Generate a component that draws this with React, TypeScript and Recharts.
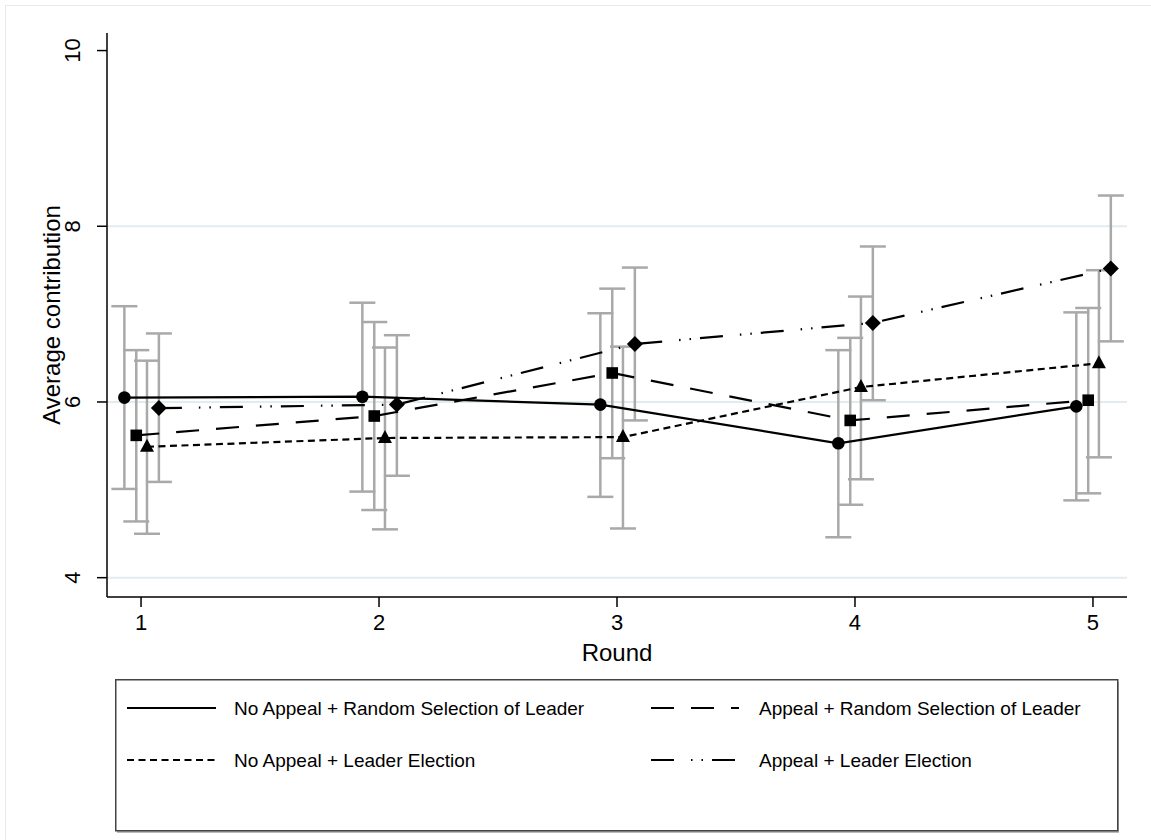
import React from 'react';
import { LineChart, Line, XAxis, YAxis, ErrorBar, CartesianGrid, Label } from 'recharts';

const FONT = '"Liberation Sans", Arial, Helvetica, sans-serif';

// ---------- data ----------
const rounds = [1, 2, 3, 4, 5];
const xTicks = [1, 2, 3, 4, 5];
const yTicks = [4, 6, 8, 10];
const gridValues = [4, 6, 8];

const seriesNames = [
  'No Appeal + Random Selection of Leader',
  'Appeal + Random Selection of Leader',
  'No Appeal + Leader Election',
  'Appeal + Leader Election',
];

// horizontal jitter used in the original plot for each treatment
const jitter = [-0.07, -0.02, 0.025, 0.075];

const noAppealRandomMean = [6.05, 6.06, 5.97, 5.53, 5.95];
const noAppealRandomLow = [5.01, 4.98, 4.92, 4.46, 4.88];
const noAppealRandomHigh = [7.09, 7.13, 7.01, 6.59, 7.02];

const appealRandomMean = [5.62, 5.84, 6.33, 5.79, 6.02];
const appealRandomLow = [4.64, 4.77, 5.36, 4.83, 4.96];
const appealRandomHigh = [6.59, 6.91, 7.29, 6.73, 7.07];

const noAppealElectionMean = [5.49, 5.59, 5.6, 6.17, 6.44];
const noAppealElectionLow = [4.5, 4.55, 4.56, 5.12, 5.37];
const noAppealElectionHigh = [6.47, 6.62, 6.63, 7.2, 7.5];

const appealElectionMean = [5.93, 5.97, 6.66, 6.9, 7.52];
const appealElectionLow = [5.09, 5.16, 5.79, 6.02, 6.69];
const appealElectionHigh = [6.78, 6.76, 7.53, 7.77, 8.35];

// ---------- styles ----------
const dashes = [undefined, '23 17', '7 4.5', '23 17 1.5 9 1.5 9'];

const build = (mean: number[], low: number[], high: number[], j: number) =>
  rounds.map((r, i) => ({
    x: r + j,
    y: mean[i],
    err: [mean[i] - low[i], high[i] - mean[i]],
  }));

const seriesData = [
  build(noAppealRandomMean, noAppealRandomLow, noAppealRandomHigh, jitter[0]),
  build(appealRandomMean, appealRandomLow, appealRandomHigh, jitter[1]),
  build(noAppealElectionMean, noAppealElectionLow, noAppealElectionHigh, jitter[2]),
  build(appealElectionMean, appealElectionLow, appealElectionHigh, jitter[3]),
];

const CircleDot = (p: any) =>
  p.cx == null ? null : <circle key={`c${p.index}`} cx={p.cx} cy={p.cy} r={6.3} fill="#000" />;
const SquareDot = (p: any) =>
  p.cx == null ? null : (
    <rect key={`s${p.index}`} x={p.cx - 5.8} y={p.cy - 5.8} width={11.6} height={11.6} fill="#000" />
  );
const TriangleDot = (p: any) =>
  p.cx == null ? null : (
    <polygon
      key={`t${p.index}`}
      points={`${p.cx},${p.cy - 8} ${p.cx - 7},${p.cy + 5} ${p.cx + 7},${p.cy + 5}`}
      fill="#000"
    />
  );
const DiamondDot = (p: any) =>
  p.cx == null ? null : (
    <polygon
      key={`d${p.index}`}
      points={`${p.cx},${p.cy - 8} ${p.cx + 8},${p.cy} ${p.cx},${p.cy + 8} ${p.cx - 8},${p.cy}`}
      fill="#000"
    />
  );
const dots = [CircleDot, SquareDot, TriangleDot, DiamondDot];

const XTick = (props: any) => {
  const { x, y, payload } = props;
  return (
    <text x={x} y={y + 21} textAnchor="middle" fontSize={22} fontFamily={FONT} fill="#000">
      {payload.value}
    </text>
  );
};

const YTick = (props: any) => {
  const { x, y, payload } = props;
  const bx = x - 15;
  return (
    <text
      x={bx}
      y={y}
      transform={`rotate(-90, ${bx}, ${y})`}
      textAnchor="middle"
      fontSize={22}
      fontFamily={FONT}
      fill="#000"
    >
      {payload.value}
    </text>
  );
};

const YTitle = (props: any) => {
  const vb = props.viewBox || {};
  const x = 60;
  const y = vb.y + vb.height / 2;
  return (
    <text
      x={x}
      y={y}
      transform={`rotate(-90, ${x}, ${y})`}
      textAnchor="middle"
      fontSize={24}
      fontFamily={FONT}
      fill="#000"
    >
      Average contribution
    </text>
  );
};

const XTitle = (props: any) => {
  const vb = props.viewBox || {};
  return (
    <text
      x={vb.x + vb.width / 2}
      y={vb.y + 64}
      textAnchor="middle"
      fontSize={24}
      fontFamily={FONT}
      fill="#000"
    >
      Round
    </text>
  );
};

const LegendBox = () => {
  const rows = [29, 81];
  const cols = [
    { x1: 12, x2: 101, tx: 119 },
    { x1: 536, x2: 624, tx: 644 },
  ];
  const order = [0, 1, 2, 3];
  return (
    <svg
      width={1006}
      height={156}
      style={{ position: 'absolute', left: 115, top: 679 }}
    >
      <rect x={2} y={3} width={1002} height={151} fill="#bbb" />
      <rect x={0.75} y={0.75} width={1002} height={151} fill="#fff" stroke="#444" strokeWidth={1.5} />
      {order.map((i) => {
        const row = rows[Math.floor(i / 2)];
        const col = cols[i % 2];
        return (
          <g key={i}>
            <line
              x1={col.x1}
              x2={col.x2}
              y1={row}
              y2={row}
              stroke="#000"
              strokeWidth={2}
              strokeDasharray={dashes[i]}
            />
            <text x={col.tx} y={row + 7} fontSize={19} fontFamily={FONT} fill="#000">
              {seriesNames[i]}
            </text>
          </g>
        );
      })}
    </svg>
  );
};

export default function App() {
  return (
    <div
      style={{
        position: 'absolute',
        left: 0,
        top: 0,
        width: 1151,
        height: 840,
        background: '#fff',
        overflow: 'hidden',
      }}
    >
      <div
        style={{
          position: 'absolute',
          left: 5,
          top: 5,
          width: 1160,
          height: 850,
          borderTop: '1px solid #e3ebed',
          borderLeft: '1px solid #e3ebed',
        }}
      />
      <div style={{ position: 'absolute', left: 0, top: 0 }}>
        <LineChart
          width={1151}
          height={840}
          margin={{ top: 33, right: 24, left: 0, bottom: 183 }}
        >
          <CartesianGrid
            horizontal
            vertical={false}
            horizontalValues={gridValues}
            stroke="#e2ecee"
            strokeWidth={2}
          />
          <XAxis
            type="number"
            dataKey="x"
            domain={[0.857, 5.143]}
            ticks={xTicks}
            allowDataOverflow
            height={60}
            tickSize={10}
            tick={<XTick />}
            axisLine={{ stroke: '#000', strokeWidth: 1.5 }}
            tickLine={{ stroke: '#000', strokeWidth: 1.5 }}
          >
            <Label content={<XTitle />} />
          </XAxis>
          <YAxis
            type="number"
            domain={[3.78, 10.2]}
            ticks={yTicks}
            allowDataOverflow
            width={107}
            tickSize={10}
            tick={<YTick />}
            axisLine={{ stroke: '#000', strokeWidth: 1.5 }}
            tickLine={{ stroke: '#000', strokeWidth: 1.5 }}
          >
            <Label content={<YTitle />} />
          </YAxis>
          {seriesData.map((d, i) => (
            <Line
              key={`err${i}`}
              data={d}
              dataKey="y"
              stroke="none"
              dot={false}
              activeDot={false}
              legendType="none"
              isAnimationActive={false}
            >
              <ErrorBar dataKey="err" width={13} stroke="#a9a9a9" strokeWidth={2.5} direction="y" />
            </Line>
          ))}
          {seriesData.map((d, i) => (
            <Line
              key={`line${i}`}
              name={seriesNames[i]}
              data={d}
              dataKey="y"
              stroke="#000"
              strokeWidth={2.2}
              strokeDasharray={dashes[i]}
              dot={dots[i]}
              activeDot={false}
              isAnimationActive={false}
            />
          ))}
        </LineChart>
      </div>
      <LegendBox />
    </div>
  );
}
